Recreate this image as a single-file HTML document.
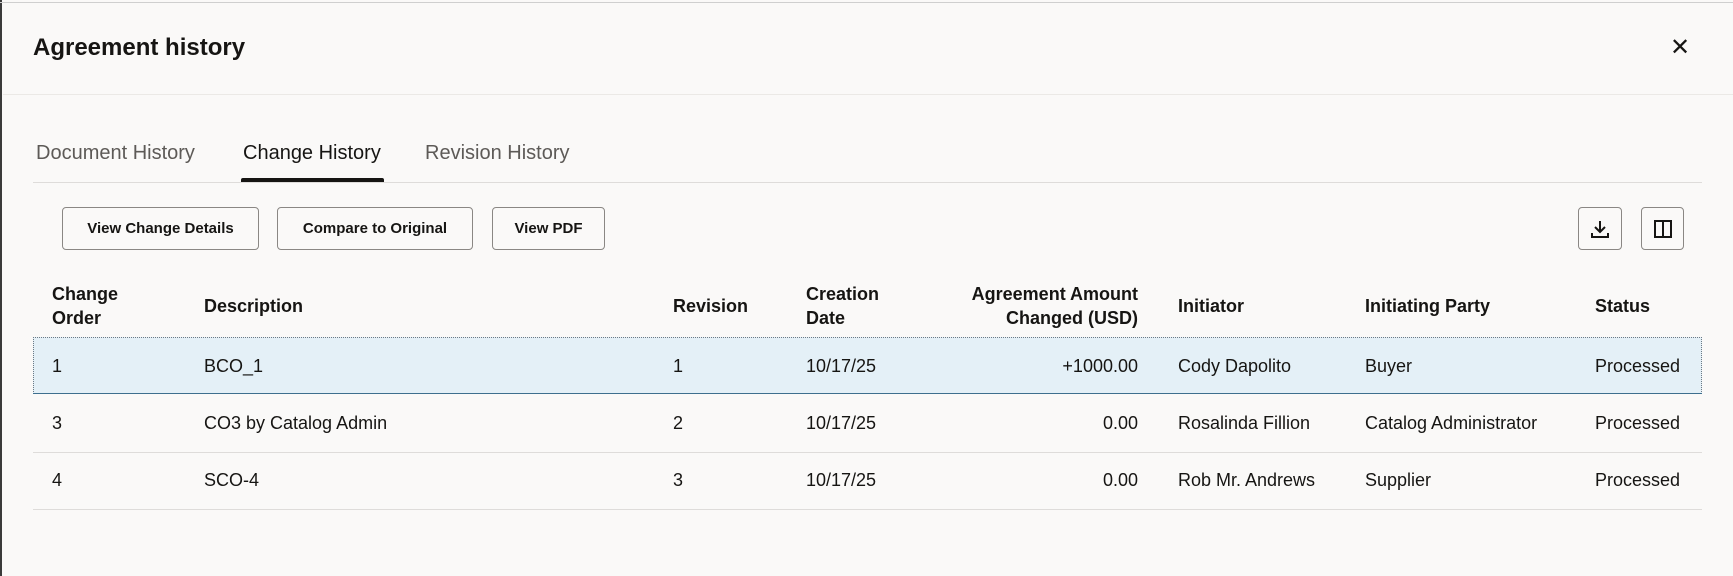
<!DOCTYPE html>
<html><head><meta charset="utf-8"><style>
body{margin:0;width:1733px;height:576px;background:#faf9f8;font-family:"Liberation Sans",sans-serif;color:#161513;position:relative;overflow:hidden}
.a{position:absolute;white-space:nowrap}
.lb{position:absolute;left:0;top:0;width:2px;height:576px;background:#3a3a3a}
.tb{position:absolute;left:0;top:2px;width:1733px;height:1px;background:#cfcfcf}
.btn{position:absolute;top:207px;height:43px;border:1px solid #8a8784;border-radius:4px;background:#faf9f8;font-size:15px;font-weight:bold;display:flex;align-items:center;justify-content:center;box-sizing:border-box}
.h{font-size:18px;font-weight:bold;line-height:24px}
.c{font-size:18px}
.line{position:absolute;left:33px;width:1669px;height:1px;background:#dedcda}
</style></head><body>
<div class="lb"></div><div class="tb"></div>
<div class="a" style="left:33px;top:34px;font-size:24px;font-weight:bold">Agreement history</div>
<div class="a" style="left:1670px;top:33px;font-size:24px;line-height:30px">✕</div>
<div class="a" style="left:3px;top:94px;width:1730px;height:1px;background:#ebe9e6"></div>
<div class="a" style="left:36px;top:142px;font-size:20px;color:#5d5a57">Document History</div>
<div class="a" style="left:243px;top:142px;font-size:20px;color:#161513">Change History</div>
<div class="a" style="left:425px;top:142px;font-size:20px;color:#5d5a57">Revision History</div>
<div class="a" style="left:33px;top:182px;width:1669px;height:1px;background:#dedcda"></div>
<div class="a" style="left:241px;top:178px;width:143px;height:4px;background:#161513;border-radius:2px 2px 0 0"></div>
<div class="btn" style="left:62px;width:197px">View Change Details</div>
<div class="btn" style="left:277px;width:196px">Compare to Original</div>
<div class="btn" style="left:492px;width:113px">View PDF</div>
<div class="btn" style="left:1578px;width:44px"><svg width="22" height="22" viewBox="0 0 22 22" fill="none" stroke="#161513" stroke-width="2"><path d="M11 3v11M6 9l5 5 5-5M3 15v4h16v-4"/></svg></div>
<div class="btn" style="left:1641px;width:43px"><svg width="22" height="22" viewBox="0 0 22 22" fill="none" stroke="#161513" stroke-width="2"><rect x="3" y="3" width="16" height="16"/><path d="M11 3v16"/></svg></div>
<div class="a h" style="left:52px;top:282px">Change<br>Order</div>
<div class="a h" style="left:204px;top:294px">Description</div>
<div class="a h" style="left:673px;top:294px">Revision</div>
<div class="a h" style="left:806px;top:282px">Creation<br>Date</div>
<div class="a h" style="left:900px;width:238px;top:282px;text-align:right">Agreement Amount<br>Changed (USD)</div>
<div class="a h" style="left:1178px;top:294px">Initiator</div>
<div class="a h" style="left:1365px;top:294px">Initiating Party</div>
<div class="a h" style="left:1595px;top:294px">Status</div>
<div class="a" style="left:33px;top:337px;width:1667px;height:55px;background:#e4f0f7;border:1px dotted #6c7a85"></div>
<div class="a" style="left:33px;top:393px;width:1669px;height:1px;background:#3d6f8e"></div>
<div class="line" style="top:452px"></div>
<div class="line" style="top:509px"></div>
<div class="a c" style="left:52px;top:356px">1</div>
<div class="a c" style="left:204px;top:356px">BCO_1</div>
<div class="a c" style="left:673px;top:356px">1</div>
<div class="a c" style="left:806px;top:356px">10/17/25</div>
<div class="a c" style="left:900px;width:238px;text-align:right;top:356px">+1000.00</div>
<div class="a c" style="left:1178px;top:356px">Cody Dapolito</div>
<div class="a c" style="left:1365px;top:356px">Buyer</div>
<div class="a c" style="left:1595px;top:356px">Processed</div>
<div class="a c" style="left:52px;top:413px">3</div>
<div class="a c" style="left:204px;top:413px">CO3 by Catalog Admin</div>
<div class="a c" style="left:673px;top:413px">2</div>
<div class="a c" style="left:806px;top:413px">10/17/25</div>
<div class="a c" style="left:900px;width:238px;text-align:right;top:413px">0.00</div>
<div class="a c" style="left:1178px;top:413px">Rosalinda Fillion</div>
<div class="a c" style="left:1365px;top:413px">Catalog Administrator</div>
<div class="a c" style="left:1595px;top:413px">Processed</div>
<div class="a c" style="left:52px;top:470px">4</div>
<div class="a c" style="left:204px;top:470px">SCO-4</div>
<div class="a c" style="left:673px;top:470px">3</div>
<div class="a c" style="left:806px;top:470px">10/17/25</div>
<div class="a c" style="left:900px;width:238px;text-align:right;top:470px">0.00</div>
<div class="a c" style="left:1178px;top:470px">Rob Mr. Andrews</div>
<div class="a c" style="left:1365px;top:470px">Supplier</div>
<div class="a c" style="left:1595px;top:470px">Processed</div>
</body></html>
